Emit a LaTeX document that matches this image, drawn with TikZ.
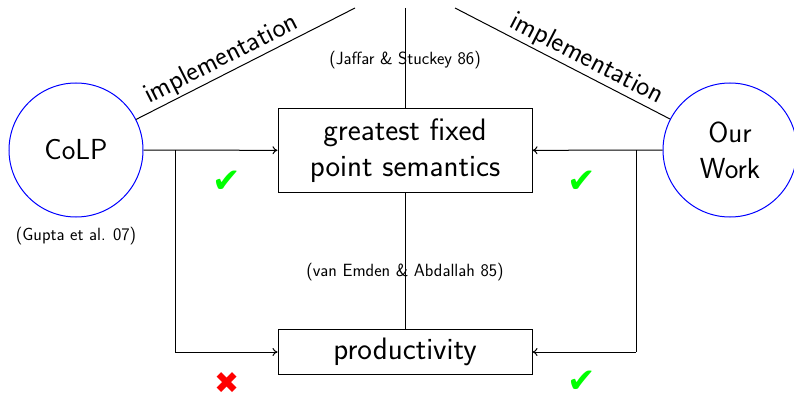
\documentclass[tikz,border=0pt]{standalone}
\usepackage{fontspec}
\newfontfamily\symfont{DejaVu Sans}
\usetikzlibrary{arrows.meta}
\begin{document}
\begin{tikzpicture}[x=1pt,y=-1pt,
  every node/.style={font=\sffamily},
  bigtext/.style={font=\sffamily\fontsize{31}{36}\selectfont},
  circtext/.style={font=\sffamily\fontsize{29}{36}\selectfont},
  smalltext/.style={font=\sffamily\fontsize{17.7}{21}\selectfont},
  impltext/.style={font=\sffamily\fontsize{28}{32}\selectfont, inner sep=2pt},
  circ/.style={circle, draw=blue, line width=1pt, minimum size=134pt, inner sep=0pt, align=center, circtext},
  boxnode/.style={draw, line width=1pt, minimum width=254pt, inner sep=0pt, align=center, bigtext},
  conn/.style={line width=1pt},
  arr/.style={conn, -{To[length=5pt,width=8pt]}},
  okmark/.style={font=\symfont\fontsize{34}{38}\selectfont, text=green, inner sep=0pt},
  nomark/.style={font=\symfont\fontsize{30}{34}\selectfont, text=red, inner sep=0pt}
]
\useasboundingbox (0,0) rectangle (794,393);

\node[circ] (colp) at (76,150) {CoLP};
\node[circ] (ow) at (730,150) {Our\\Work};
\node[boxnode, minimum height=83pt] (gfp) at (405,150.5) {greatest fixed\\point semantics};
\node[boxnode, minimum height=45pt] (prod) at (405,351.5) {productivity};

\coordinate (tl) at (355,8);
\coordinate (tr) at (455,8);
\coordinate (tc) at (405,8);

\draw[conn] (colp) -- node[pos=0.42, above, sloped, impltext] {implementation} (tl);
\draw[conn] (tr) -- node[pos=0.58, above, sloped, impltext] {implementation} (ow);

\draw[conn] (tc) -- (gfp);
\draw[conn] (gfp) -- (prod);

\coordinate (l1) at (175,150);
\coordinate (l2) at (175,352);
\coordinate (r1) at (636,150);
\coordinate (r2) at (636,352);

\draw[arr] (colp) -- (gfp);
\draw[arr] (ow) -- (gfp);
\draw[conn] (l1) -- (l2);
\draw[conn] (r1) -- (r2);
\draw[arr] (l2) -- (prod.west |- l2);
\draw[arr] (r2) -- (prod.east |- r2);

\node[smalltext] (jaffar) at (405,60) {(Jaffar \& Stuckey 86)};
\node[smalltext] (vanemden) at (405,272) {(van Emden \& Abdallah 85)};
\node[smalltext] (gupta) at (76,236) {(Gupta et al. 07)};

\node[okmark] (c1) at (227,182) {✔};
\node[okmark] (c2) at (582,182) {✔};
\node[okmark] (c3) at (582,382) {✔};
\node[nomark] (x1) at (227,383) {✖};
\end{tikzpicture}
\end{document}
